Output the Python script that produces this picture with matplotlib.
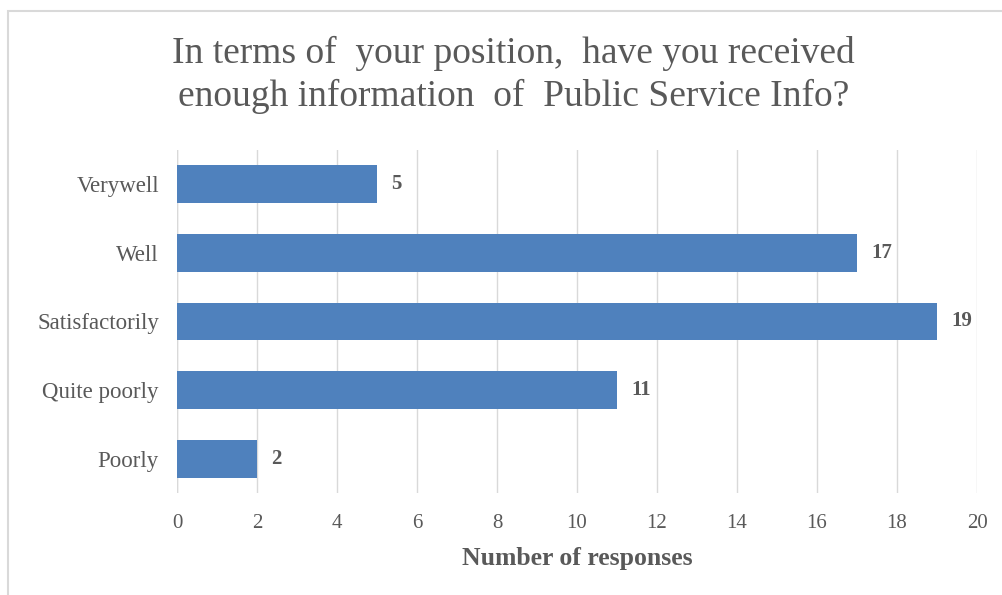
import matplotlib
matplotlib.use("Agg")
import matplotlib.pyplot as plt
from matplotlib.patches import Rectangle

categories = ["Verywell", "Well", "Satisfactorily", "Quite poorly", "Poorly"]
responses = [5, 17, 19, 11, 2]
xticks = [0, 2, 4, 6, 8, 10, 12, 14, 16, 18, 20]

title = "In terms of  your position,  have you received\nenough information  of  Public Service Info?"
xlabel = "Number of responses"

plt.rcParams["font.family"] = ["Liberation Serif", "DejaVu Serif"]
text_color = "#595959"
bar_color = "#4F81BD"
grid_color = "#D9D9D9"

fig = plt.figure(figsize=(10.03, 5.95), dpi=100)
ax = fig.add_axes([0.1765, 0.1714, 0.7976, 0.5766])

ypos = list(range(len(categories)))
ax.barh(ypos, responses, height=0.55, color=bar_color, zorder=3)
ax.set_ylim(len(categories) - 0.5, -0.5)
ax.set_xlim(0, 20)
ax.set_xticks(xticks)
ax.set_xticklabels([str(t) for t in xticks], fontsize=15, color=text_color)
ax.set_yticks(ypos)
ax.set_yticklabels(categories, fontsize=16.5, color=text_color)
ax.tick_params(axis="y", length=0, pad=13)
ax.tick_params(axis="x", length=0, pad=15)
ax.xaxis.grid(True, color=grid_color, linewidth=1, zorder=0)
for s in ax.spines.values():
    s.set_visible(False)
ax.axvline(0, color=grid_color, linewidth=1, zorder=1)

for y, v in zip(ypos, responses):
    ax.text(v + 0.35, y, str(v), va="center", ha="left", fontsize=15,
            fontweight="bold", color=text_color)

ax.set_xlabel(xlabel, fontsize=18.5, fontweight="bold", color=text_color, labelpad=10)

fig.text(0.512, 0.874, title, ha="center", va="center", fontsize=27,
         color=text_color, linespacing=1.3)

# light outline of the chart area
fig.patches.append(Rectangle((8 / 1003, -0.01), 1.0, 1 - 11 / 595 + 0.01,
                             transform=fig.transFigure, fill=False,
                             edgecolor="#D9D9D9", linewidth=1.5))

fig.savefig("out.png", dpi=100)
